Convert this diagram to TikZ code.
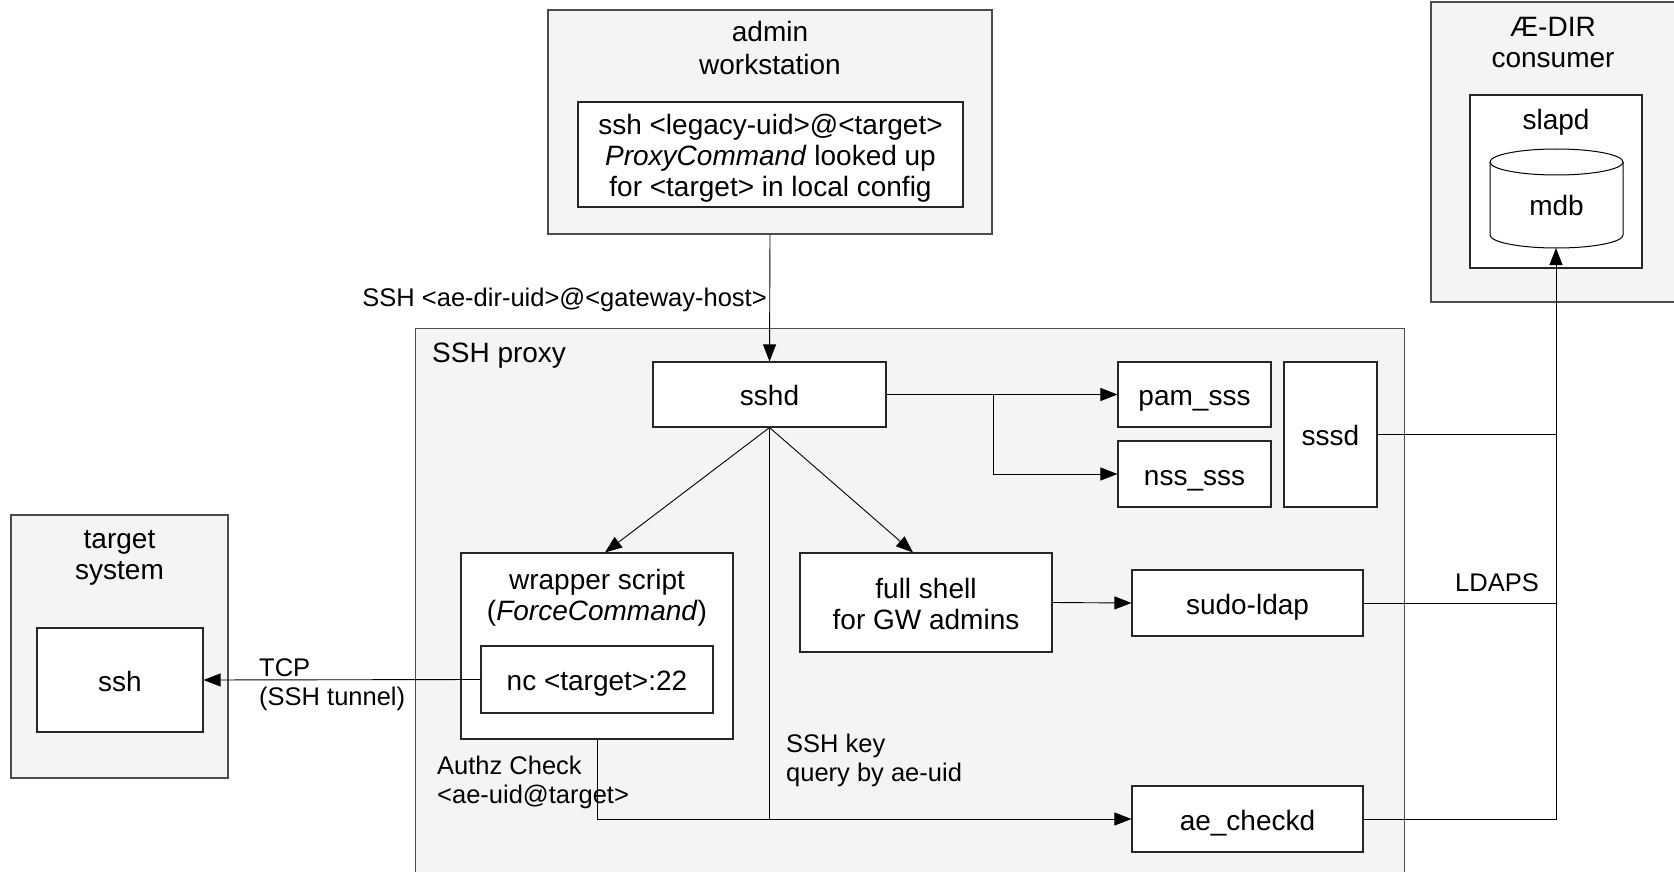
\documentclass[tikz,border=0pt]{standalone}
\usepackage{fontspec}
\setmainfont{Liberation Sans}
\usetikzlibrary{arrows.meta,positioning,calc}
\definecolor{panel}{HTML}{F4F4F4}
\tikzset{
  host/.style   = {draw=black!70, line width=1.1pt, fill=panel, rectangle, inner sep=0pt},
  block/.style  = {draw=black!85, line width=1.1pt, fill=white, rectangle, inner sep=0pt},
  sblock/.style = {block, text height=26.9pt, text depth=4.5pt},
  txt/.style    = {align=center, inner sep=0pt},
  lbl/.style    = {align=left, inner sep=0pt, font=\fontsize{25.5}{29.3}\selectfont},
  sig/.style    = {-{Triangle[length=17pt,width=13pt]}, line width=0.9pt},
  wire/.style   = {line width=0.9pt},
}

\begin{document}
\begin{tikzpicture}[x=1pt,y=-1pt,font=\fontsize{28}{31}\selectfont]
\useasboundingbox (0,0) rectangle (1674,872);

% hosts
\node[host,minimum width=444pt,minimum height=224pt] (adm) at (770,122) {};
\node[txt,font=\fontsize{28}{33}\selectfont] (admt) at (770,48) {admin\\workstation};
\node[block,minimum width=385pt,minimum height=105pt] (cmd) at (770.5,154.5) {};
\node[txt] (cmdt) at (770.5,158.5)
  {ssh <legacy-uid>@<target>\\ \textit{ProxyCommand} looked up\\for <target> in local config};

\node[host,minimum width=244pt,minimum height=300pt] (dir) at (1553,152) {};
\node[txt] (dirt) at (1553,43) {Æ-DIR\\consumer};
\node[block,minimum width=172pt,minimum height=173pt] (slapd) at (1556,181.5) {};
\node[txt] (slapdt) at (1556,122) {slapd};

% mdb cylinder
\path[fill=white] (1490,162) -- (1490,235)
  arc[start angle=180,end angle=0,x radius=66.5,y radius=13] -- (1623,162) -- cycle;
\draw[line width=1pt] (1490,162) -- (1490,235)
  arc[start angle=180,end angle=0,x radius=66.5,y radius=13] -- (1623,162);
\draw[line width=1pt,fill=white] (1556.5,162) ellipse[x radius=66.5,y radius=13];
\node[txt] (mdb) at (1556.5,205) {mdb};
\coordinate (mdbb) at (1556,248);

\node[host,minimum width=217pt,minimum height=263pt] (tgt) at (119.5,646.5) {};
\node[txt] (tgtt) at (119.5,558) {target\\system};
\node[sblock,minimum width=166pt,minimum height=104pt] (ssh) at (120,680) {ssh};

\node[host,minimum width=989pt,minimum height=560pt,anchor=north west] (proxy) at (415,328) {};
\node[txt,anchor=west] (proxyt) at (432,356) {SSH proxy};

% proxy components
\node[sblock,minimum width=233pt,minimum height=65pt] (sshd) at (769.5,394.5) {sshd};
\node[sblock,minimum width=153pt,minimum height=65pt] (pam) at (1194.5,394.5) {pam\_sss};
\node[sblock,minimum width=153pt,minimum height=66pt] (nss) at (1194.5,474) {nss\_sss};
\node[sblock,minimum width=93pt,minimum height=145pt] (sssd) at (1330.5,434.5) {sssd};
\node[block,minimum width=272pt,minimum height=186pt] (wrap) at (597,646) {};
\node[txt] (wrapt) at (597,597.5) {wrapper script\\(\textit{ForceCommand})};
\node[sblock,minimum width=232pt,minimum height=67pt] (nc) at (597,679.5) {nc <target>:22};
\node[block,minimum width=252pt,minimum height=99pt] (shell) at (926,602.5) {};
\node[txt] (shellt) at (926,604) {full shell\\for GW admins};
\node[sblock,minimum width=231pt,minimum height=66pt] (sudo) at (1247.5,603) {sudo-ldap};
\node[sblock,minimum width=231pt,minimum height=66pt] (chk) at (1247.5,819) {ae\_checkd};

% connectors
\draw[sig] (adm.south) -- (sshd.north);
\node[lbl,anchor=east] (gw) at (767,300) {SSH <ae-dir-uid>@<gateway-host>};

\coordinate (fork) at (993,394.5);
\draw[sig] (sshd.east) -- (fork) -- (pam.west);
\draw[sig] (fork) |- (nss.west);

\draw[sig] (sshd.south) -- ($(wrap.north)+(8,0)$);
\draw[sig] (sshd.south) -- ($(shell.north)+(-13,0)$);
\draw[sig] (shell.east) -- (sudo.west);

\draw[wire] (sshd.south) -- (sshd.south |- chk.west);
\draw[sig] (wrap.south) |- (chk.west);
\node[lbl,anchor=west] (keyq) at (786,760.5) {SSH key\\query by ae-uid};
\node[lbl,anchor=west] (authz) at (437,782.5) {Authz Check\\<ae-uid@target>};

\draw[sig] (nc.west) -- (ssh.east);
\node[lbl,anchor=west] (tcp) at (259,684.5) {TCP\\(SSH tunnel)};

% LDAPS uplinks
\draw[sig] (chk.east) -| (mdbb);
\draw[wire] (sudo.east) -- (sudo.east -| mdbb);
\draw[wire] (sssd.east) -- (sssd.east -| mdbb);
\node[lbl] (ldaps) at (1497,583) {LDAPS};
\end{tikzpicture}
\end{document}
